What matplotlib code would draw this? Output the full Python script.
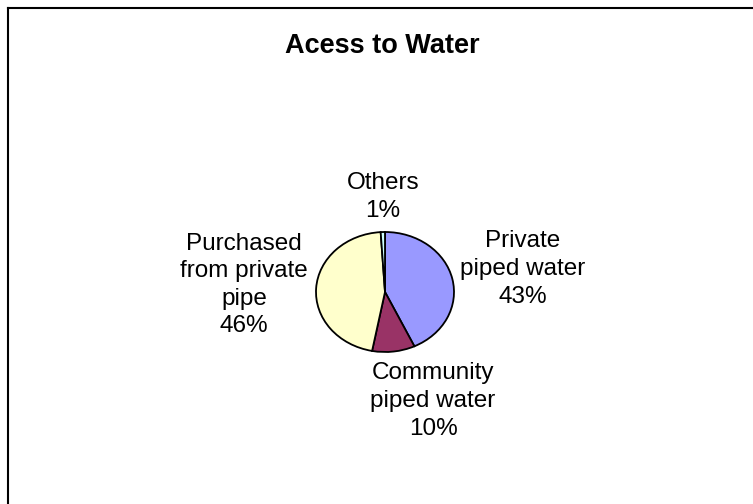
import matplotlib
matplotlib.use("Agg")
import matplotlib.pyplot as plt
from matplotlib.lines import Line2D

plt.rcParams["font.family"] = ["Liberation Sans", "DejaVu Sans"]

# Data
categories = ["Private\npiped water", "Community\npiped water",
              "Purchased\nfrom private\npipe", "Others"]
shares = [43, 10, 46, 1]
colors = ["#9999FF", "#993366", "#FFFFCC", "#CCFFFF"]
title = "Acess to Water"

W, H = 753, 504
fig = plt.figure(figsize=(W / 100, H / 100), dpi=100)
fig.patch.set_facecolor("white")

def fx(px):
    return px / W

def fy(py):
    return 1 - py / H

# Chart-area border (left and top edges visible)
fig.add_artist(Line2D([fx(7.5), fx(7.5)], [fy(7.5), 0], color="black",
                      lw=1.5, transform=fig.transFigure))
fig.add_artist(Line2D([fx(7.5), 1], [fy(7.5), fy(7.5)], color="black",
                      lw=1.5, transform=fig.transFigure))

fig.text(fx(382), fy(46), title, ha="center", va="center",
         fontsize=19.5, fontweight="bold")

# Pie area (slightly wider than tall)
ax = fig.add_axes([fx(316), fy(352), fx(454) - fx(316), (352 - 232) / H])
wedges, _ = ax.pie(shares, colors=colors, startangle=90, counterclock=False,
                   radius=1.0,
                   wedgeprops=dict(edgecolor="black", linewidth=1.3))
ax.set_aspect("auto")
ax.set_xlim(-1, 1)
ax.set_ylim(-1, 1)
ax.axis("off")

# Data labels
label_pos = [(523, 269), (433, 401), (244, 285), (383, 197)]
for name, val, (px, py) in zip(categories, shares, label_pos):
    fig.text(fx(px), fy(py), f"{name}\n{val}%", ha="center", va="center",
             multialignment="center", fontsize=17.5, linespacing=1.33)

fig.savefig("out.png", dpi=100, facecolor="white")
